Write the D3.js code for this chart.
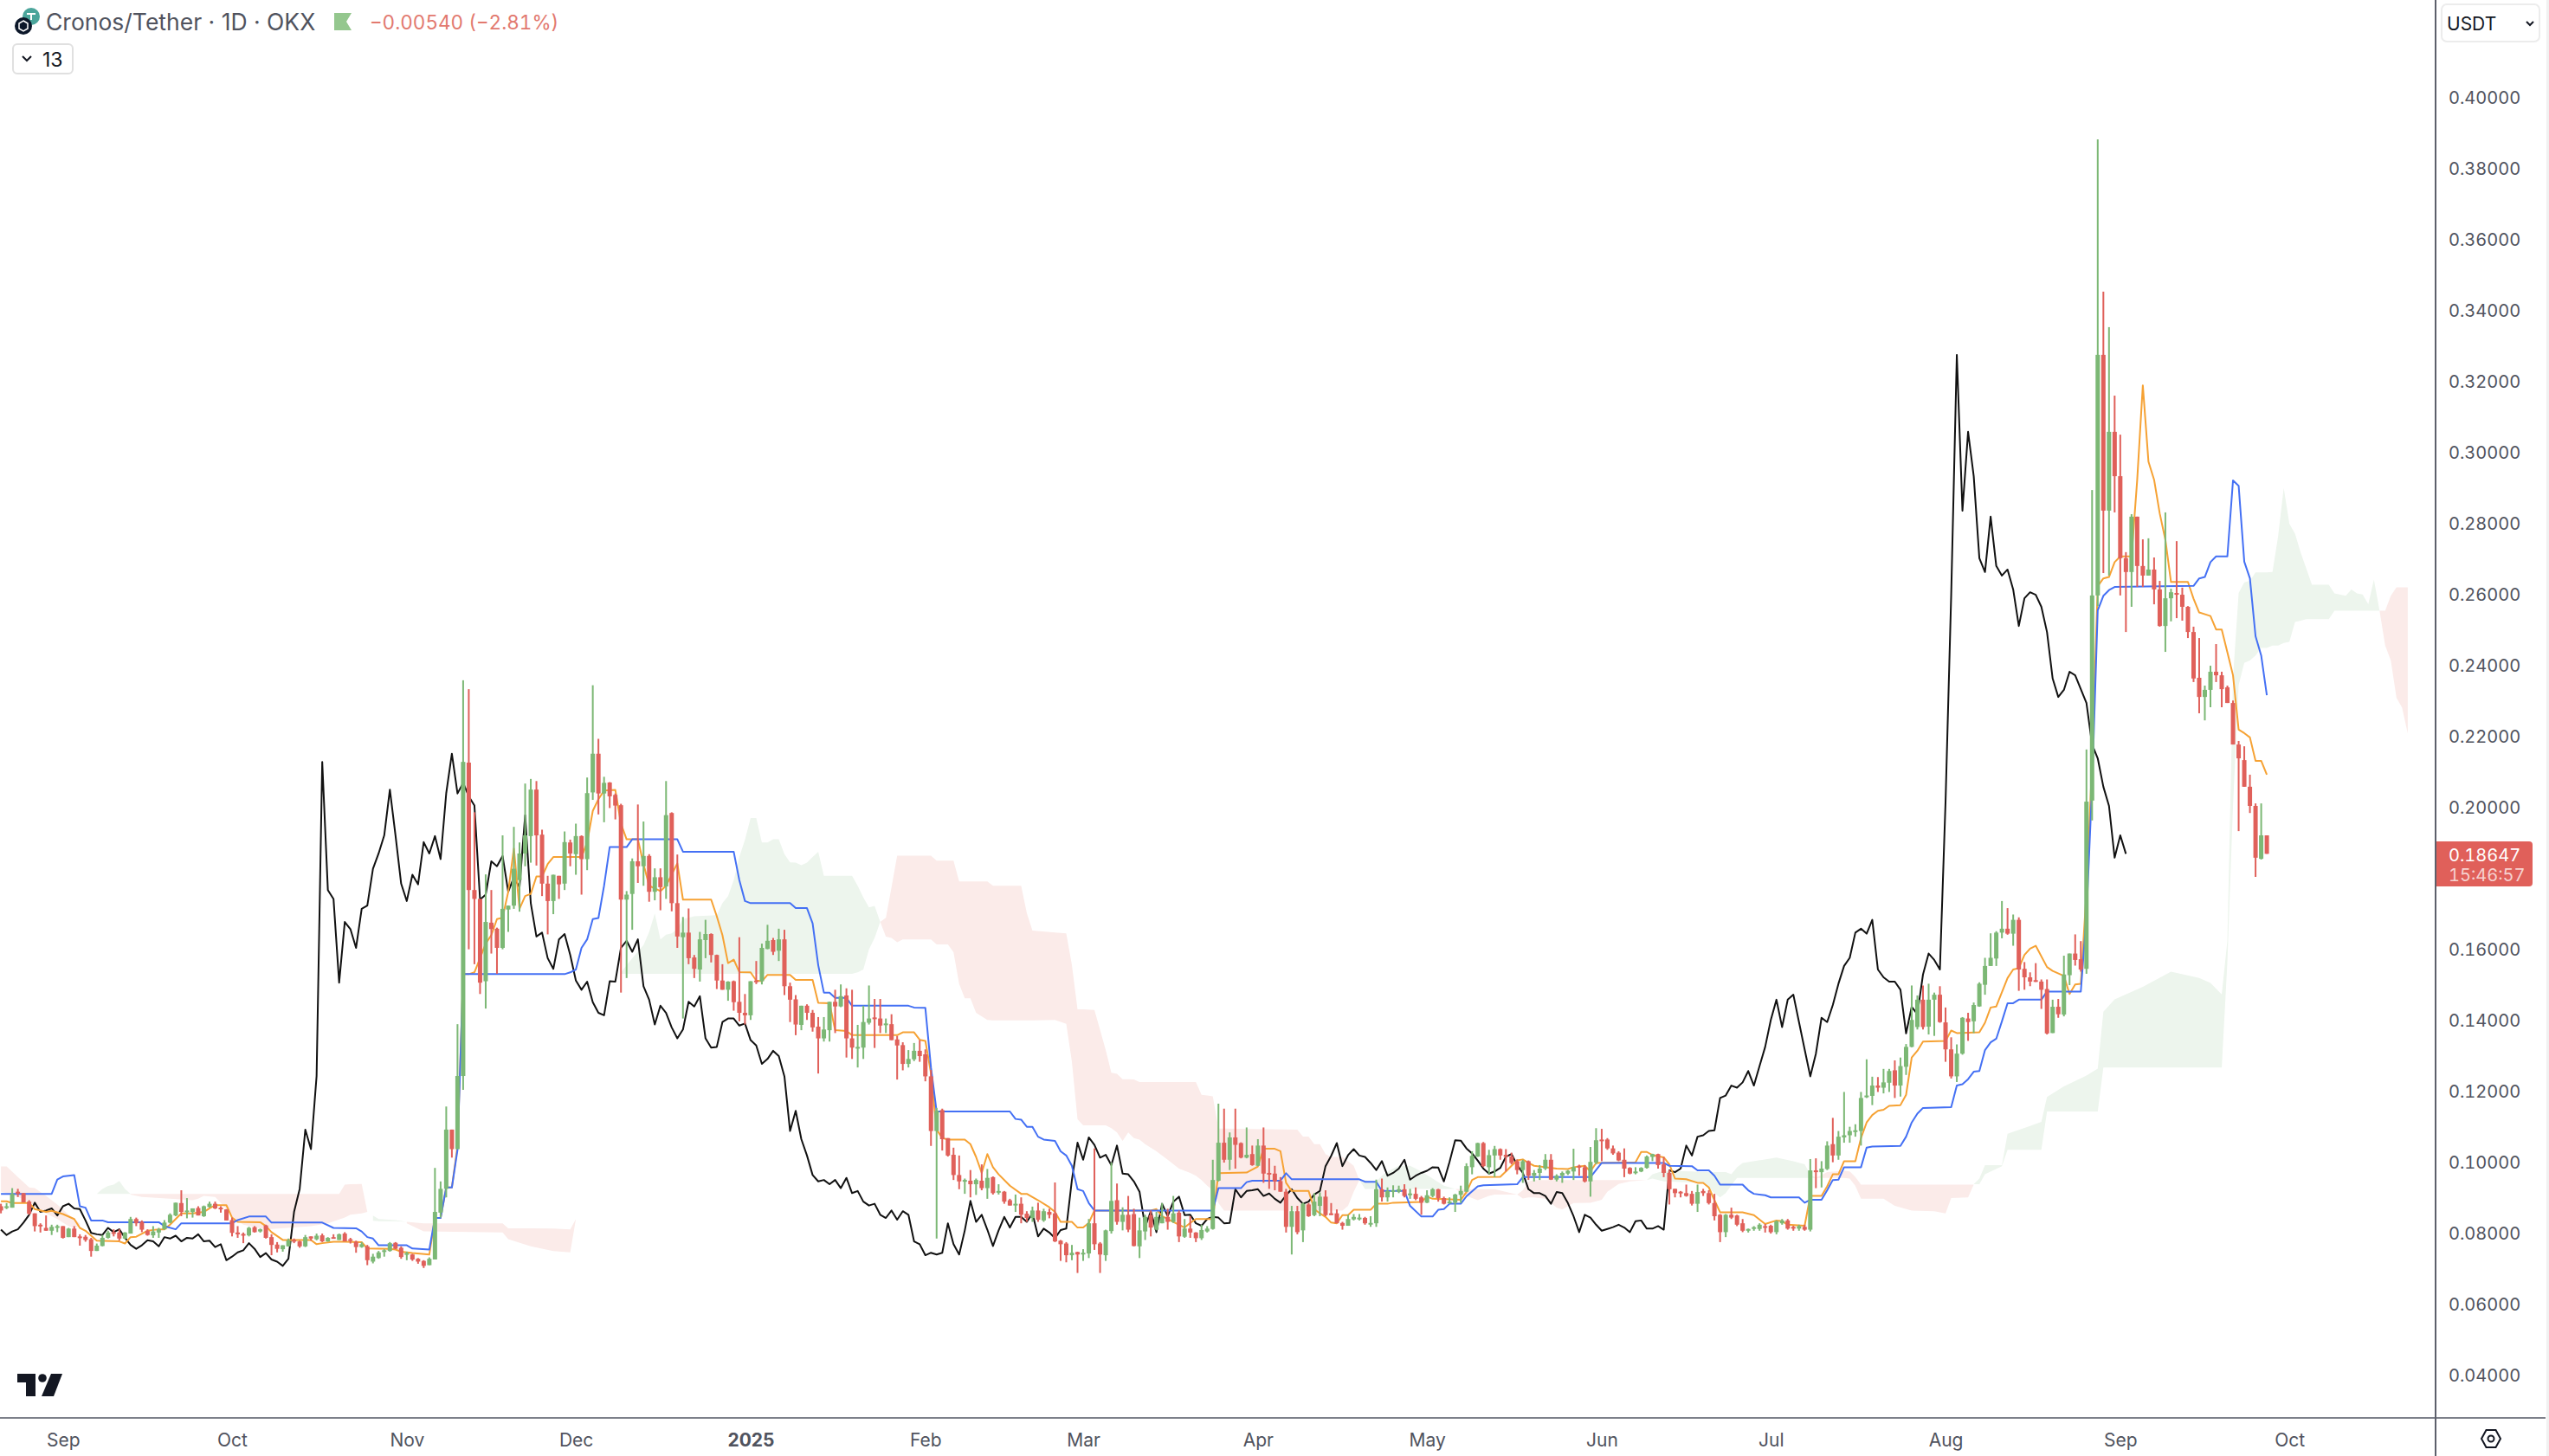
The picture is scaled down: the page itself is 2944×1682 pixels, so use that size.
<!DOCTYPE html>
<html><head><meta charset="utf-8">
<script src="https://cdn.jsdelivr.net/npm/d3@7/dist/d3.min.js"></script>
<style>
html,body{margin:0;padding:0;background:#fff}
svg{display:block}
text{font-family:Inter,"Noto Sans",sans-serif}
.tn{font-feature-settings:"tnum" 1;font-variant-numeric:tabular-nums}
</style></head><body><div id="chart"></div>
<script>
// All prices are stored in ten-thousandths of a USDT.
const priceUnit = 1e-4;
const firstBarDate = "2024-08-21";
const priceTicks = [0.40,0.38,0.36,0.34,0.32,0.30,0.28,0.26,0.24,0.22,0.20,0.18,0.16,0.14,0.12,0.10,0.08,0.06,0.04];
const monthBars = [11,41,72,102,133,164,192,223,253,284,314,345,376,406];
const monthLabels = ["Sep","Oct","Nov","Dec","2025","Feb","Mar","Apr","May","Jun","Jul","Aug","Sep","Oct"];
const laggingOffset = 25;

const opens = [872,868,868,913,909,885,852,820,811,803,
811,816,785,809,787,786,779,746,760,783,
799,798,781,795,836,828,803,790,798,807,
826,846,881,856,856,867,844,870,879,868,
863,833,798,794,790,813,801,818,785,764,
751,759,777,773,759,787,779,790,773,785,
777,795,779,772,757,759,716,726,746,746,
769,755,736,736,724,718,706,722,854,921,
1088,1033,1239,2122,1763,1738,1506,1671,1654,1600,
1708,1719,1791,1866,1915,2046,1919,1781,1732,1803,
1781,1897,1864,1915,1850,2038,2147,2035,2066,2031,
2002,1736,1752,1844,1830,1859,1758,1799,1773,1980,
1726,1630,1643,1573,1539,1622,1639,1580,1508,1482,
1506,1448,1417,1410,1508,1506,1597,1622,1592,1624,
1492,1455,1383,1437,1417,1378,1345,1368,1448,1435,
1466,1345,1319,1319,1389,1404,1401,1385,1385,1342,
1326,1273,1286,1310,1300,1238,1084,1143,1064,1017,
960,942,944,934,944,923,954,912,913,889,
877,879,851,839,860,832,856,852,775,767,
734,743,739,739,824,767,734,802,889,828,
848,850,759,801,847,806,824,842,828,854,
786,809,798,782,801,808,944,1051,1003,1066,
1050,1009,1019,986,1043,966,964,943,913,814,
858,804,877,847,873,899,852,852,825,817,
835,837,839,824,824,920,897,913,913,920,
905,907,897,882,901,920,895,882,882,904,
913,982,1012,1050,982,1015,1033,1017,1012,999,
974,999,958,966,978,1003,947,958,964,970,
986,982,942,995,1060,1060,1035,1023,1003,980,
966,970,980,1011,1019,990,966,921,913,909,
907,879,915,909,881,848,799,848,846,824,
803,809,808,816,817,799,824,832,814,809,
814,806,973,968,977,1047,1015,1066,1072,1082,
1084,1179,1183,1212,1206,1220,1255,1212,1265,1321,
1377,1454,1378,1454,1468,1390,1314,1238,1302,1401,
1393,1435,1496,1549,1570,1643,1654,1640,1679,1541,
1517,1509,1505,1484,1360,1434,1412,1523,1584,1568,
1541,2015,2593,3271,2832,3054,2929,2698,2659,2815,
2676,2649,2666,2610,2507,2585,2600,2595,2561,2490,
2361,2307,2327,2378,2368,2334,2290,2173,2129,2054,
2000,1851,1917];

const highs = [879,881,923,921,909,889,852,824,846,820,
820,816,811,816,793,791,783,767,791,803,
807,807,799,842,840,832,807,816,811,833,
852,882,917,895,866,872,874,885,885,872,
864,840,816,798,814,816,809,820,793,771,
762,781,781,775,791,787,795,795,785,793,
795,799,783,775,771,763,738,746,751,771,
771,759,744,738,726,720,728,980,942,1153,
1088,1385,2354,2329,1982,1738,1807,1763,1657,1917,
1719,1941,1897,2063,2076,2070,1933,1803,1806,1803,
1928,1905,1950,1917,2080,2340,2189,2082,2067,2035,
2006,1760,1852,2004,1956,1864,1824,1824,2070,1982,
1863,1687,1711,1580,1645,1679,1641,1581,1554,1506,
1508,1630,1470,1506,1563,1612,1665,1628,1654,1651,
1502,1467,1437,1441,1425,1405,1405,1448,1482,1497,
1486,1482,1383,1437,1494,1456,1456,1401,1413,1352,
1334,1312,1332,1340,1314,1256,1149,1147,1064,1037,
1015,950,974,950,990,977,956,934,915,893,
905,897,858,871,882,865,865,939,777,771,
763,744,751,836,1035,771,806,995,936,869,
901,865,840,848,860,856,881,865,901,860,
836,844,799,820,816,1003,1161,1147,1080,1147,
1052,1094,1043,1061,1094,1007,986,954,921,873,
873,882,881,909,911,917,881,863,828,848,
850,850,842,844,947,950,925,931,930,934,
921,925,901,917,923,921,899,897,907,930,
993,1027,1051,1053,1031,1042,1035,1033,1023,1004,
1003,1001,974,988,1019,1019,962,970,974,1034,
989,988,1039,1092,1090,1064,1043,1027,1035,982,
982,982,1015,1020,1020,1011,974,921,915,933,
915,933,921,917,907,850,850,868,848,836,
809,816,824,822,820,832,836,836,817,820,
820,1005,1007,999,1055,1121,1084,1194,1096,1103,
1194,1286,1237,1236,1259,1259,1283,1291,1329,1494,
1466,1494,1499,1474,1492,1432,1348,1328,1405,1417,
1446,1503,1572,1641,1647,1732,1712,1694,1686,1560,
1531,1557,1511,1511,1454,1456,1578,1584,1638,1619,
2159,2890,3878,3449,3349,3156,3046,2715,2822,2815,
2751,2754,2700,2634,2827,2612,2746,2615,2563,2505,
2473,2339,2395,2456,2378,2339,2297,2183,2168,2088,
2007,2007,1917];

const lows = [852,864,868,898,883,848,801,798,803,791,
799,781,785,785,761,772,730,746,759,781,
787,775,779,795,816,799,789,783,783,806,
824,844,844,838,840,846,842,868,864,854,
832,787,783,768,787,798,798,781,734,742,
744,759,768,755,757,775,776,771,772,781,
777,773,767,741,755,706,711,724,730,744,
751,724,720,718,710,698,706,722,840,897,
1009,1033,1200,1596,1554,1470,1429,1584,1527,1596,
1645,1710,1702,1830,1840,1832,1746,1638,1695,1738,
1763,1830,1806,1750,1819,2017,1976,1954,1994,1962,
1474,1515,1651,1783,1775,1730,1734,1706,1738,1703,
1600,1401,1554,1515,1505,1571,1559,1484,1482,1451,
1423,1393,1384,1397,1498,1497,1596,1580,1563,1467,
1391,1354,1368,1397,1364,1246,1336,1336,1360,1433,
1291,1287,1263,1287,1384,1318,1360,1360,1340,1229,
1255,1263,1281,1279,1224,1042,781,1029,1012,946,
920,907,897,904,917,893,905,905,879,874,
856,824,828,828,828,828,838,771,718,714,
720,684,718,726,749,684,718,795,820,804,
799,759,726,777,787,804,824,806,825,771,
783,783,771,777,798,806,942,995,974,978,
1007,1007,986,985,938,921,917,913,798,736,
793,771,842,844,844,844,847,824,806,817,
832,832,820,814,814,885,885,897,909,897,
893,889,848,881,897,885,877,879,856,881,
912,962,1011,982,962,954,1003,970,990,962,
938,946,942,946,974,946,942,938,960,946,
958,939,899,990,999,1031,1017,999,954,962,
962,968,978,999,978,954,877,897,897,899,
874,856,901,877,832,771,785,836,816,799,
798,803,803,798,795,793,820,806,803,803,
803,801,923,925,974,996,1003,1051,1051,1068,
1043,1177,1157,1194,1190,1194,1177,1181,1242,1320,
1370,1370,1356,1352,1389,1279,1232,1222,1299,1338,
1360,1434,1468,1549,1549,1627,1637,1606,1479,1482,
1492,1504,1428,1356,1360,1403,1407,1495,1550,1533,
1527,1959,2563,2656,2649,2827,2593,2490,2561,2617,
2617,2649,2568,2505,2434,2520,2529,2522,2473,2349,
2261,2241,2278,2349,2278,2290,2173,1929,2054,1980,
1800,1849,1865];

const closes = [860,872,907,907,883,851,816,816,803,814,
816,783,809,785,785,777,746,761,783,798,
795,781,798,836,824,806,791,801,807,826,
848,882,856,860,866,846,872,879,866,864,
832,797,793,791,811,799,807,783,763,752,
762,776,773,759,785,781,789,773,783,781,
793,773,775,757,765,720,730,742,748,768,
752,729,740,722,716,704,724,856,921,1088,
1033,1239,2124,1763,1738,1502,1673,1653,1600,1710,
1719,1823,1866,1917,2046,1917,1781,1732,1806,1779,
1898,1866,1915,1850,2036,2147,2035,2065,2027,2001,
1736,1750,1844,1830,1859,1758,1799,1771,1974,1726,
1632,1643,1571,1541,1624,1639,1580,1508,1482,1505,
1447,1417,1410,1506,1505,1600,1620,1589,1624,1492,
1454,1384,1437,1417,1376,1345,1370,1448,1435,1464,
1345,1319,1321,1391,1401,1401,1381,1387,1340,1325,
1273,1287,1310,1295,1238,1084,1141,1061,1015,960,
942,946,934,946,923,952,909,915,885,874,
879,848,839,860,834,858,848,773,765,734,
741,736,741,824,765,736,804,887,828,848,
806,760,804,842,812,842,842,828,852,787,
809,798,782,805,809,946,1051,1003,1066,1045,
1009,1017,988,1043,964,962,942,913,814,858,
799,879,844,885,899,847,848,824,817,836,
842,840,824,825,920,897,915,917,920,901,
908,893,882,903,920,895,879,885,905,915,
985,1014,1050,985,1016,1033,1015,1011,994,974,
999,958,966,978,1003,947,958,966,972,982,
981,942,997,1058,1057,1035,1021,1001,978,964,
970,980,1012,1019,988,966,920,909,909,901,
879,912,909,881,844,799,848,840,820,803,
808,813,820,812,799,830,832,809,809,816,
806,973,968,978,1043,1015,1068,1072,1084,1086,
1177,1184,1212,1206,1221,1253,1212,1267,1321,1397,
1454,1377,1454,1468,1391,1314,1238,1302,1403,1391,
1439,1499,1549,1572,1643,1654,1640,1679,1539,1517,
1505,1505,1482,1359,1434,1413,1525,1584,1566,1539,
2012,2593,3271,2832,3054,2929,2698,2659,2815,2676,
2649,2666,2610,2507,2585,2602,2595,2561,2490,2359,
2307,2327,2378,2368,2329,2290,2173,2134,2054,2000,
1854,1917,1865];

// Conversion line: [bar, price]
const tenkan = [[0,886],[1,886],[2,881],[5,881],[6,864],[8,856],[9,859],[11,850],[13,836],[14,811],[15,803],[17,775],[21,773],[22,767],[23,785],[24,786],[26,803],[28,807],[29,807],[30,820],[32,852],[34,852],[36,856],[37,866],[38,875],[40,875],[41,840],[42,828],[46,827],[47,816],[48,799],[50,777],[55,777],[56,765],[57,768],[59,772],[61,772],[64,771],[65,753],[69,752],[70,750],[71,744],[73,740],[76,736],[77,839],[78,839],[79,925],[80,925],[81,1041],[82,1526],[83,1526],[84,1531],[85,1571],[86,1612],[87,1636],[88,1681],[89,1685],[90,1758],[91,1880],[92,1710],[93,1746],[94,1752],[95,1801],[96,1801],[97,1836],[98,1856],[103,1856],[104,1897],[105,1986],[106,2019],[107,2043],[109,2045],[110,1950],[111,1906],[113,1906],[114,1836],[115,1775],[117,1760],[118,1775],[120,1838],[121,1736],[126,1736],[127,1689],[128,1636],[129,1557],[130,1567],[131,1532],[133,1531],[134,1508],[135,1506],[136,1524],[140,1524],[141,1510],[144,1510],[145,1445],[147,1444],[148,1368],[150,1366],[151,1354],[159,1354],[160,1362],[162,1362],[163,1341],[164,1338],[165,1247],[166,1088],[167,1064],[168,1060],[171,1060],[172,1047],[173,1011],[174,966],[175,1019],[176,982],[177,962],[179,930],[181,907],[182,907],[184,889],[186,869],[187,856],[188,828],[190,828],[191,812],[192,812],[193,825],[194,860],[204,860],[205,864],[206,844],[208,828],[210,812],[211,825],[212,836],[215,836],[216,965],[221,967],[223,984],[224,1034],[226,1034],[227,1027],[228,938],[229,915],[232,915],[233,864],[234,852],[235,842],[236,826],[237,824],[238,847],[239,847],[240,862],[243,862],[244,879],[246,879],[247,882],[252,884],[253,899],[254,893],[259,890],[260,912],[261,946],[262,954],[266,955],[267,970],[268,986],[269,1001],[270,1004],[271,994],[272,986],[276,978],[278,977],[279,982],[281,986],[282,970],[283,994],[290,996],[291,1025],[292,1025],[293,1016],[295,1010],[296,990],[297,950],[299,948],[301,938],[302,938],[303,925],[304,889],[305,855],[309,855],[311,847],[313,822],[315,832],[316,830],[317,820],[320,817],[321,901],[323,901],[324,928],[325,962],[326,962],[327,999],[329,999],[330,1064],[331,1108],[332,1129],[333,1141],[334,1144],[335,1155],[337,1157],[338,1186],[339,1291],[340,1310],[341,1336],[345,1338],[346,1367],[347,1360],[351,1362],[352,1389],[353,1432],[354,1435],[356,1515],[357,1539],[358,1543],[359,1580],[360,1598],[361,1606],[363,1546],[364,1535],[366,1521],[367,1470],[368,1497],[369,1499],[370,1757],[371,2123],[372,2619],[373,2641],[374,2645],[375,2687],[376,2703],[378,2703],[379,2918],[380,3185],[381,2970],[382,2919],[383,2824],[384,2750],[385,2631],[388,2631],[389,2584],[390,2545],[392,2535],[393,2497],[394,2497],[395,2433],[396,2368],[397,2215],[398,2205],[399,2193],[400,2127],[401,2127],[402,2088]];

// Base line: [bar, price]
const kijun = [[0,907],[9,907],[10,947],[11,956],[13,960],[14,872],[15,868],[16,832],[18,832],[19,827],[28,827],[29,816],[31,807],[32,824],[41,824],[42,833],[44,843],[47,843],[48,826],[57,826],[59,811],[63,810],[64,801],[65,785],[66,781],[67,762],[72,762],[73,753],[76,750],[77,839],[78,839],[79,925],[80,925],[81,1031],[82,1526],[100,1526],[101,1531],[102,1539],[103,1600],[104,1624],[105,1681],[106,1684],[107,1775],[108,1884],[111,1884],[112,1906],[120,1906],[121,1871],[130,1871],[131,1791],[132,1732],[133,1726],[140,1726],[141,1712],[143,1712],[144,1669],[145,1551],[146,1474],[147,1474],[148,1459],[150,1459],[151,1437],[161,1437],[162,1432],[164,1431],[165,1263],[166,1139],[179,1139],[180,1118],[181,1116],[182,1096],[183,1096],[184,1068],[185,1060],[187,1056],[188,1027],[189,1015],[190,986],[191,920],[192,915],[193,881],[194,860],[215,860],[216,923],[220,923],[221,940],[222,944],[227,944],[228,965],[229,948],[241,948],[242,941],[244,941],[245,915],[249,915],[250,873],[252,843],[254,843],[255,862],[256,864],[257,879],[259,879],[260,900],[262,928],[263,931],[269,934],[270,954],[282,954],[284,994],[295,994],[296,986],[300,985],[301,973],[303,973],[304,958],[305,933],[309,933],[310,917],[311,907],[313,903],[314,897],[319,897],[320,882],[321,890],[323,890],[324,917],[325,946],[326,947],[327,982],[330,982],[331,1037],[332,1040],[337,1042],[338,1068],[339,1108],[340,1133],[341,1149],[346,1151],[347,1212],[348,1216],[349,1230],[350,1251],[351,1253],[352,1312],[353,1334],[354,1344],[355,1393],[356,1444],[357,1444],[358,1454],[362,1454],[363,1477],[369,1477],[370,1690],[371,2056],[372,2551],[373,2592],[374,2608],[375,2617],[389,2620],[390,2641],[391,2645],[392,2687],[393,2703],[395,2703],[396,2917],[397,2902],[398,2688],[399,2641],[400,2478],[401,2424],[402,2312]];

// Cloud patches: [bar, upper price, lower price]
const cloudRed1 = [[0,984,913],[1,984,909],[3,954,898],[5,925,885],[6,923,872],[8,901,852],[10,877,836],[12,848,816],[13,836,811],[14,824,816]];
const cloudGreen1 = [[17,907,907],[18,921,907],[19,929,907],[20,933,907],[21,943,907],[22,921,907],[23,907,907]];
const cloudRed2 = [[23,907,905],[25,907,898],[30,907,893],[34,907,889],[35,907,893],[36,907,901],[38,907,898],[39,907,882],[40,907,864],[41,907,840],[43,907,820],[47,907,807],[55,907,816],[58,907,824],[60,907,835],[61,933,840],[62,934,848],[64,935,852],[65,856,856],[66,848,848]];
const cloudGreen2 = [[66,846,831],[67,836,830],[70,833,830],[72,828,828]];
const cloudRed3 = [[72,828,824],[75,824,801],[89,824,798],[90,810,779],[94,810,759],[98,809,746],[101,807,742],[102,836,836]];
const cloudGreen3 = [[110,1531,1527],[112,1571,1527],[114,1608,1527],[115,1645,1527],[116,1697,1527],[117,1624,1527],[118,1637,1527],[119,1641,1527],[120,1653,1527],[121,1681,1527],[123,1689,1527],[127,1692,1527],[128,1726,1527],[129,1746,1527],[130,1791,1527],[131,1856,1527],[132,1905,1527],[133,1966,1527],[134,1966,1527],[135,1897,1527],[136,1897,1527],[137,1906,1527],[138,1906,1527],[139,1864,1527],[140,1841,1527],[141,1840,1527],[142,1833,1527],[143,1840,1527],[144,1856,1527],[145,1871,1527],[146,1803,1527],[151,1803,1527],[152,1775,1531],[153,1742,1539],[154,1714,1596],[155,1718,1628],[156,1673,1673]];
const cloudRed4 = [[156,1673,1673],[157,1685,1632],[158,1771,1628],[159,1860,1616],[160,1860,1624],[165,1860,1624],[166,1846,1610],[168,1846,1610],[169,1846,1588],[170,1787,1498],[171,1787,1458],[172,1787,1458],[173,1787,1417],[175,1787,1397],[176,1775,1396],[181,1775,1396],[182,1698,1396],[183,1649,1396],[187,1643,1397],[189,1641,1386],[190,1552,1279],[191,1427,1117],[192,1427,1100],[194,1425,1100],[195,1369,1100],[196,1312,1100],[197,1248,1092],[198,1245,1080],[199,1230,1056],[200,1230,1080],[201,1229,1064],[202,1222,1060],[203,1222,1047],[205,1222,1027],[207,1222,1003],[209,1222,978],[211,1222,966],[212,1222,958],[213,1186,946],[214,1184,930],[215,1182,917],[216,1091,881],[217,1091,860],[230,1088,860],[231,1068,860],[232,1068,860],[233,1047,860],[234,1047,860],[235,1019,860],[236,1011,860],[238,1011,860],[239,999,873],[240,986,913],[241,946,946]];
const cloudGreen4 = [[241,946,946],[242,946,921],[243,942,921],[244,942,921],[245,958,921],[246,970,921],[248,986,921],[250,986,921],[252,970,921],[254,950,921],[256,930,921],[258,921,921]];
const cloudRed5 = [[258,921,921],[260,920,901],[262,920,889],[264,920,901],[265,920,905],[269,905,905],[270,917,894],[271,942,897],[272,946,897],[274,946,893],[276,946,868],[277,946,863],[279,946,881],[282,946,882],[284,946,890],[285,946,913],[287,946,935],[289,946,942],[292,946,946]];
const cloudGreen5 = [[292,946,946],[293,962,950],[295,972,942],[300,970,939],[302,968,938],[303,968,925],[304,968,909],[305,968,897],[306,968,909],[307,962,931],[308,982,952],[309,994,952],[315,1009,952],[318,999,952],[320,990,952],[321,962,952],[322,952,952]];
const cloudRed6 = [[322,952,952],[324,968,952],[327,972,952],[328,970,950],[329,954,929],[330,933,893],[334,933,893],[336,933,873],[339,933,860],[343,933,858],[345,933,852],[346,933,895],[349,933,897],[350,933,933]];
const cloudGreen6 = [[350,934,934],[351,950,934],[352,988,962],[355,988,985],[356,1076,1031],[360,1098,1031],[362,1110,1031],[363,1180,1139],[366,1210,1139],[370,1240,1139],[372,1260,1139],[373,1420,1263],[375,1455,1263],[380,1490,1263],[385,1533,1263],[390,1515,1263],[392,1501,1263],[394,1469,1263],[395,1620,1560],[396,2360,2000],[397,2600,2340],[398,2630,2403],[399,2634,2410],[400,2658,2424],[401,2658,2445],[402,2658,2445],[403,2659,2452],[404,2760,2452],[405,2896,2459],[406,2795,2462],[407,2767,2518],[408,2714,2522],[409,2669,2526],[410,2623,2526],[413,2623,2526],[414,2599,2550],[416,2592,2550],[417,2610,2550],[418,2599,2550],[419,2596,2550],[420,2568,2550],[421,2638,2550],[422,2550,2550]];
const cloudRed7 = [[422,2550,2550],[423,2550,2452],[424,2592,2410],[425,2616,2305],[426,2616,2277],[427,2616,2204]];

const lastPrice = "0.18647", countdown = "15:46:57";
const titleText = "Cronos/Tether · 1D · OKX", changeText = "−0.00540 (−2.81%)";

const W = 2944, H = 1682, axisX = 2813, axisY = 1638;
const GREEN = "#7cb875", RED = "#e0605a", CLOUD_G = "#edf5ed", CLOUD_R = "#fbebe9";
const INK = "#50535e";

const svg = d3.select("#chart").append("svg").attr("width", W).attr("height", H).attr("viewBox", `0 0 ${W} ${H}`);
svg.append("rect").attr("width", W).attr("height", H).attr("fill", "#fff");

const x = d3.scaleLinear().domain([0, 402]).range([1.1, 2618.1]);
const y = d3.scaleLinear().domain([0.40, 0.04]).range([111, 1587]);
const py = v => y(v * priceUnit);

svg.append("defs").append("clipPath").attr("id", "plot").append("rect").attr("width", axisX).attr("height", axisY);
const plot = svg.append("g").attr("clip-path", "url(#plot)");

// cloud
const area = d3.area().x(d => x(d[0])).y0(d => py(d[2])).y1(d => py(d[1]));
[[cloudRed1,CLOUD_R],[cloudGreen1,CLOUD_G],[cloudRed2,CLOUD_R],[cloudGreen2,CLOUD_G],[cloudRed3,CLOUD_R],
 [cloudGreen3,CLOUD_G],[cloudRed4,CLOUD_R],[cloudGreen4,CLOUD_G],[cloudRed5,CLOUD_R],[cloudGreen5,CLOUD_G],
 [cloudRed6,CLOUD_R],[cloudGreen6,CLOUD_G],[cloudRed7,CLOUD_R]].forEach(([rows, fill]) => {
  plot.append("path").attr("d", area(rows)).attr("fill", fill);
});

// lagging span: closes drawn 25 bars back
const lagging = closes.slice(laggingOffset).map((c, i) => [i, c]);
const line = d3.line().x(d => x(d[0])).y(d => py(d[1]));
plot.append("path").attr("d", line(lagging)).attr("fill", "none").attr("stroke", "#111").attr("stroke-width", 2).attr("stroke-linejoin", "round");
plot.append("path").attr("d", line(tenkan)).attr("fill", "none").attr("stroke", "#f6a234").attr("stroke-width", 2).attr("stroke-linejoin", "round");
plot.append("path").attr("d", line(kijun)).attr("fill", "none").attr("stroke", "#4470f4").attr("stroke-width", 2).attr("stroke-linejoin", "round");

// candles
const bars = d3.range(closes.length);
const col = i => closes[i] >= opens[i] ? GREEN : RED;
plot.append("g").selectAll("rect").data(bars).join("rect")
  .attr("x", i => x(i) - 1).attr("width", 2)
  .attr("y", i => py(highs[i])).attr("height", i => py(lows[i]) - py(highs[i]))
  .attr("fill", col);
plot.append("g").selectAll("rect").data(bars).join("rect")
  .attr("x", i => x(i) - 2.5).attr("width", 5)
  .attr("y", i => py(Math.max(opens[i], closes[i])))
  .attr("height", i => Math.max(2, Math.abs(py(opens[i]) - py(closes[i]))))
  .attr("fill", col);

// axes
const yAxis = d3.axisRight(y).tickValues(priceTicks).tickFormat(d3.format(".5f")).tickSize(0).tickPadding(15);
const gy = svg.append("g").attr("transform", `translate(${axisX},0)`).call(yAxis);
gy.select(".domain").remove();
gy.selectAll("text").attr("class", "tn").attr("fill", INK).attr("font-size", 20).attr("font-family", "Inter").attr("dy", "0.4em");

const xAxis = d3.axisBottom(x).tickValues(monthBars).tickFormat((d, i) => monthLabels[i]).tickSize(0).tickPadding(18);
const gx = svg.append("g").attr("transform", `translate(0,${axisY})`).call(xAxis);
gx.select(".domain").remove();
gx.selectAll("text").attr("fill", INK).attr("font-size", 21).attr("font-family", "Inter")
  .attr("font-weight", (d, i) => monthLabels[i] === "2025" ? 700 : 400);

// frame
svg.append("rect").attr("x", 2941).attr("width", 3).attr("height", H).attr("fill", "#f1f1f1");
svg.append("line").attr("x1", 0).attr("x2", 2940).attr("y1", axisY).attr("y2", axisY).attr("stroke", "#7d808a").attr("stroke-width", 2);
svg.append("line").attr("x1", axisX).attr("x2", axisX).attr("y1", 0).attr("y2", H).attr("stroke", "#5d606b").attr("stroke-width", 2);

// header
svg.append("circle").attr("cx", 36).attr("cy", 19).attr("r", 10).attr("fill", "#4ba59b");
svg.append("path").attr("d", "M31 15h10v2h-4v6h-2v-6h-4z").attr("fill", "#fff");
svg.append("circle").attr("cx", 27).attr("cy", 30).attr("r", 10).attr("fill", "#0c1729");
svg.append("path").attr("d", "M27 24l5 3v6l-5 3l-5-3v-6z").attr("fill", "none").attr("stroke", "#fff").attr("stroke-width", 1.5);
svg.append("text").attr("x", 53).attr("y", 35).attr("font-size", 26.5).attr("fill", INK).text(titleText);
svg.append("path").attr("d", "M386 15h20l-6 10l6 10h-20z").attr("fill", "#94c78e");
svg.append("text").attr("x", 427).attr("y", 34).attr("class", "tn").attr("font-size", 22.5).attr("fill", "#e2796f").text(changeText);
svg.append("rect").attr("x", 15).attr("y", 51).attr("width", 69).attr("height", 34).attr("rx", 5).attr("fill", "#fff").attr("stroke", "#e0e0e0").attr("stroke-width", 2);
svg.append("path").attr("d", "M26 65l5 5l5-5").attr("fill", "none").attr("stroke", "#131722").attr("stroke-width", 2);
svg.append("text").attr("x", 49).attr("y", 77).attr("font-size", 23).attr("fill", "#131722").text("13");

// currency button
svg.append("rect").attr("x", 2820).attr("y", 5).attr("width", 113).attr("height", 43).attr("rx", 6).attr("fill", "#fff").attr("stroke", "#ececec").attr("stroke-width", 2);
svg.append("text").attr("x", 2826).attr("y", 35).attr("font-size", 21).attr("fill", "#131722").text("USDT");
svg.append("path").attr("d", "M2918 25l4 4l4-4").attr("fill", "none").attr("stroke", "#131722").attr("stroke-width", 2);

// last price tag
svg.append("path").attr("d", "M2814 972h107a4 4 0 0 1 4 4v44a4 4 0 0 1-4 4h-107z").attr("fill", RED);
svg.append("text").attr("x", 2828).attr("y", 995).attr("class", "tn").attr("font-size", 20).attr("fill", "#fff").text(lastPrice);
svg.append("text").attr("x", 2828).attr("y", 1018).attr("class", "tn").attr("font-size", 20).attr("fill", "#fff").attr("fill-opacity", 0.72).text(countdown);

// TradingView mark
svg.append("path").attr("d", "M20 1587h21v26h-11v-16h-10z").attr("fill", "#131722");
svg.append("circle").attr("cx", 49).attr("cy", 1592).attr("r", 4.8).attr("fill", "#131722");
svg.append("path").attr("d", "M59 1587h13l-10 26h-14z").attr("fill", "#131722");

// settings icon
svg.append("path").attr("d", "M2866 1662l5.5-10h11l5.5 10l-5.5 10h-11z").attr("fill", "none").attr("stroke", "#131722").attr("stroke-width", 2);
svg.append("circle").attr("cx", 2877).attr("cy", 1662).attr("r", 3.5).attr("fill", "none").attr("stroke", "#131722").attr("stroke-width", 2);
</script></body></html>
